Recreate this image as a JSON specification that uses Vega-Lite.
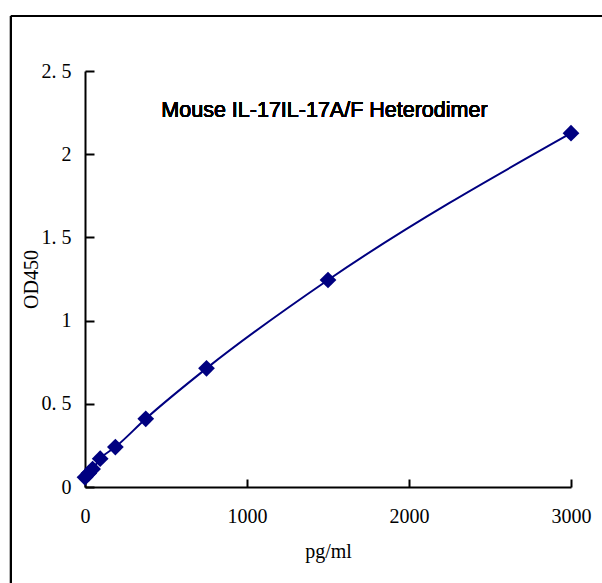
{
  "$schema": "https://vega.github.io/schema/vega-lite/v6.json",
  "width": 486,
  "height": 416,
  "autosize": {"type": "none"},
  "padding": {"left": 85, "top": 71, "right": 31, "bottom": 96},
  "background": "white",
  "config": {"view": {"stroke": null}},
  "data": {
    "values": [
      {"conc": 0, "od": 0.058},
      {"conc": 23.44, "od": 0.082},
      {"conc": 46.88, "od": 0.108},
      {"conc": 93.75, "od": 0.17},
      {"conc": 187.5, "od": 0.24},
      {"conc": 375, "od": 0.41},
      {"conc": 750, "od": 0.713},
      {"conc": 1500, "od": 1.244},
      {"conc": 3000, "od": 2.126}
    ]
  },
  "layer": [
    {
      "mark": {"type": "rule", "color": "black", "strokeWidth": 2},
      "encoding": {
        "x": {"datum": -457, "scale": {"domain": [0, 3000], "nice": false, "zero": false}},
        "y": {"datum": 2.83, "scale": {"domain": [0, 2.5], "nice": false, "zero": false}},
        "y2": {"datum": -0.65}
      }
    },
    {
      "mark": {"type": "rule", "color": "black", "strokeWidth": 2},
      "encoding": {
        "x": {"datum": -457, "scale": {"domain": [0, 3000], "nice": false, "zero": false}},
        "x2": {"datum": 3300},
        "y": {"datum": 2.83, "scale": {"domain": [0, 2.5], "nice": false, "zero": false}}
      }
    },
    {
      "mark": {"type": "line", "color": "#000080", "strokeWidth": 2, "interpolate": "monotone"},
      "encoding": {
        "x": {
          "field": "conc", "type": "quantitative",
          "scale": {"domain": [0, 3000], "nice": false, "zero": false},
          "axis": {
            "title": "pg/ml", "values": [0, 1000, 2000, 3000], "grid": false,
            "labelExpr": "toString(datum.value)",
            "domainColor": "black", "domainWidth": 2, "tickColor": "black", "tickWidth": 2,
            "tickSize": -8, "labelPadding": 27, "labelFont": "Liberation Serif", "labelFontSize": 20,
            "labelColor": "black", "labelFlush": false, "labelOverlap": false,
            "titleFont": "Liberation Serif", "titleFontSize": 20, "titleFontWeight": "normal",
            "titleColor": "black", "titlePadding": 15
          }
        },
        "y": {
          "field": "od", "type": "quantitative",
          "scale": {"domain": [0, 2.5], "nice": false, "zero": false},
          "axis": {
            "title": "OD450", "values": [0, 0.5, 1, 1.5, 2, 2.5], "grid": false,
            "labelExpr": "replace(toString(datum.value), '.', '. ')",
            "domainColor": "black", "domainWidth": 2, "tickColor": "black", "tickWidth": 2,
            "tickSize": -9, "labelPadding": 23, "labelFont": "Liberation Serif", "labelFontSize": 20,
            "labelColor": "black", "labelFlush": false, "labelOverlap": false,
            "titleFont": "Liberation Serif", "titleFontSize": 20, "titleFontWeight": "normal",
            "titleColor": "black", "titlePadding": 0
          }
        }
      }
    },
    {
      "mark": {"type": "point", "shape": "diamond", "filled": true, "fill": "#000080", "strokeWidth": 0, "size": 280, "opacity": 1},
      "encoding": {
        "x": {"field": "conc", "type": "quantitative", "scale": {"domain": [0, 3000], "nice": false, "zero": false}},
        "y": {"field": "od", "type": "quantitative", "scale": {"domain": [0, 2.5], "nice": false, "zero": false}}
      }
    },
    {
      "mark": {"type": "text", "font": "Liberation Sans", "fontSize": 21.5, "fontWeight": "normal", "baseline": "alphabetic", "align": "center", "fill": "black", "strokeWidth": 0},
      "encoding": {
        "x": {"datum": 1478, "scale": {"domain": [0, 3000], "nice": false, "zero": false}},
        "y": {"datum": 2.225, "scale": {"domain": [0, 2.5], "nice": false, "zero": false}},
        "text": {"value": "Mouse IL-17IL-17A/F Heterodimer"}
      }
    }
  ]
}
